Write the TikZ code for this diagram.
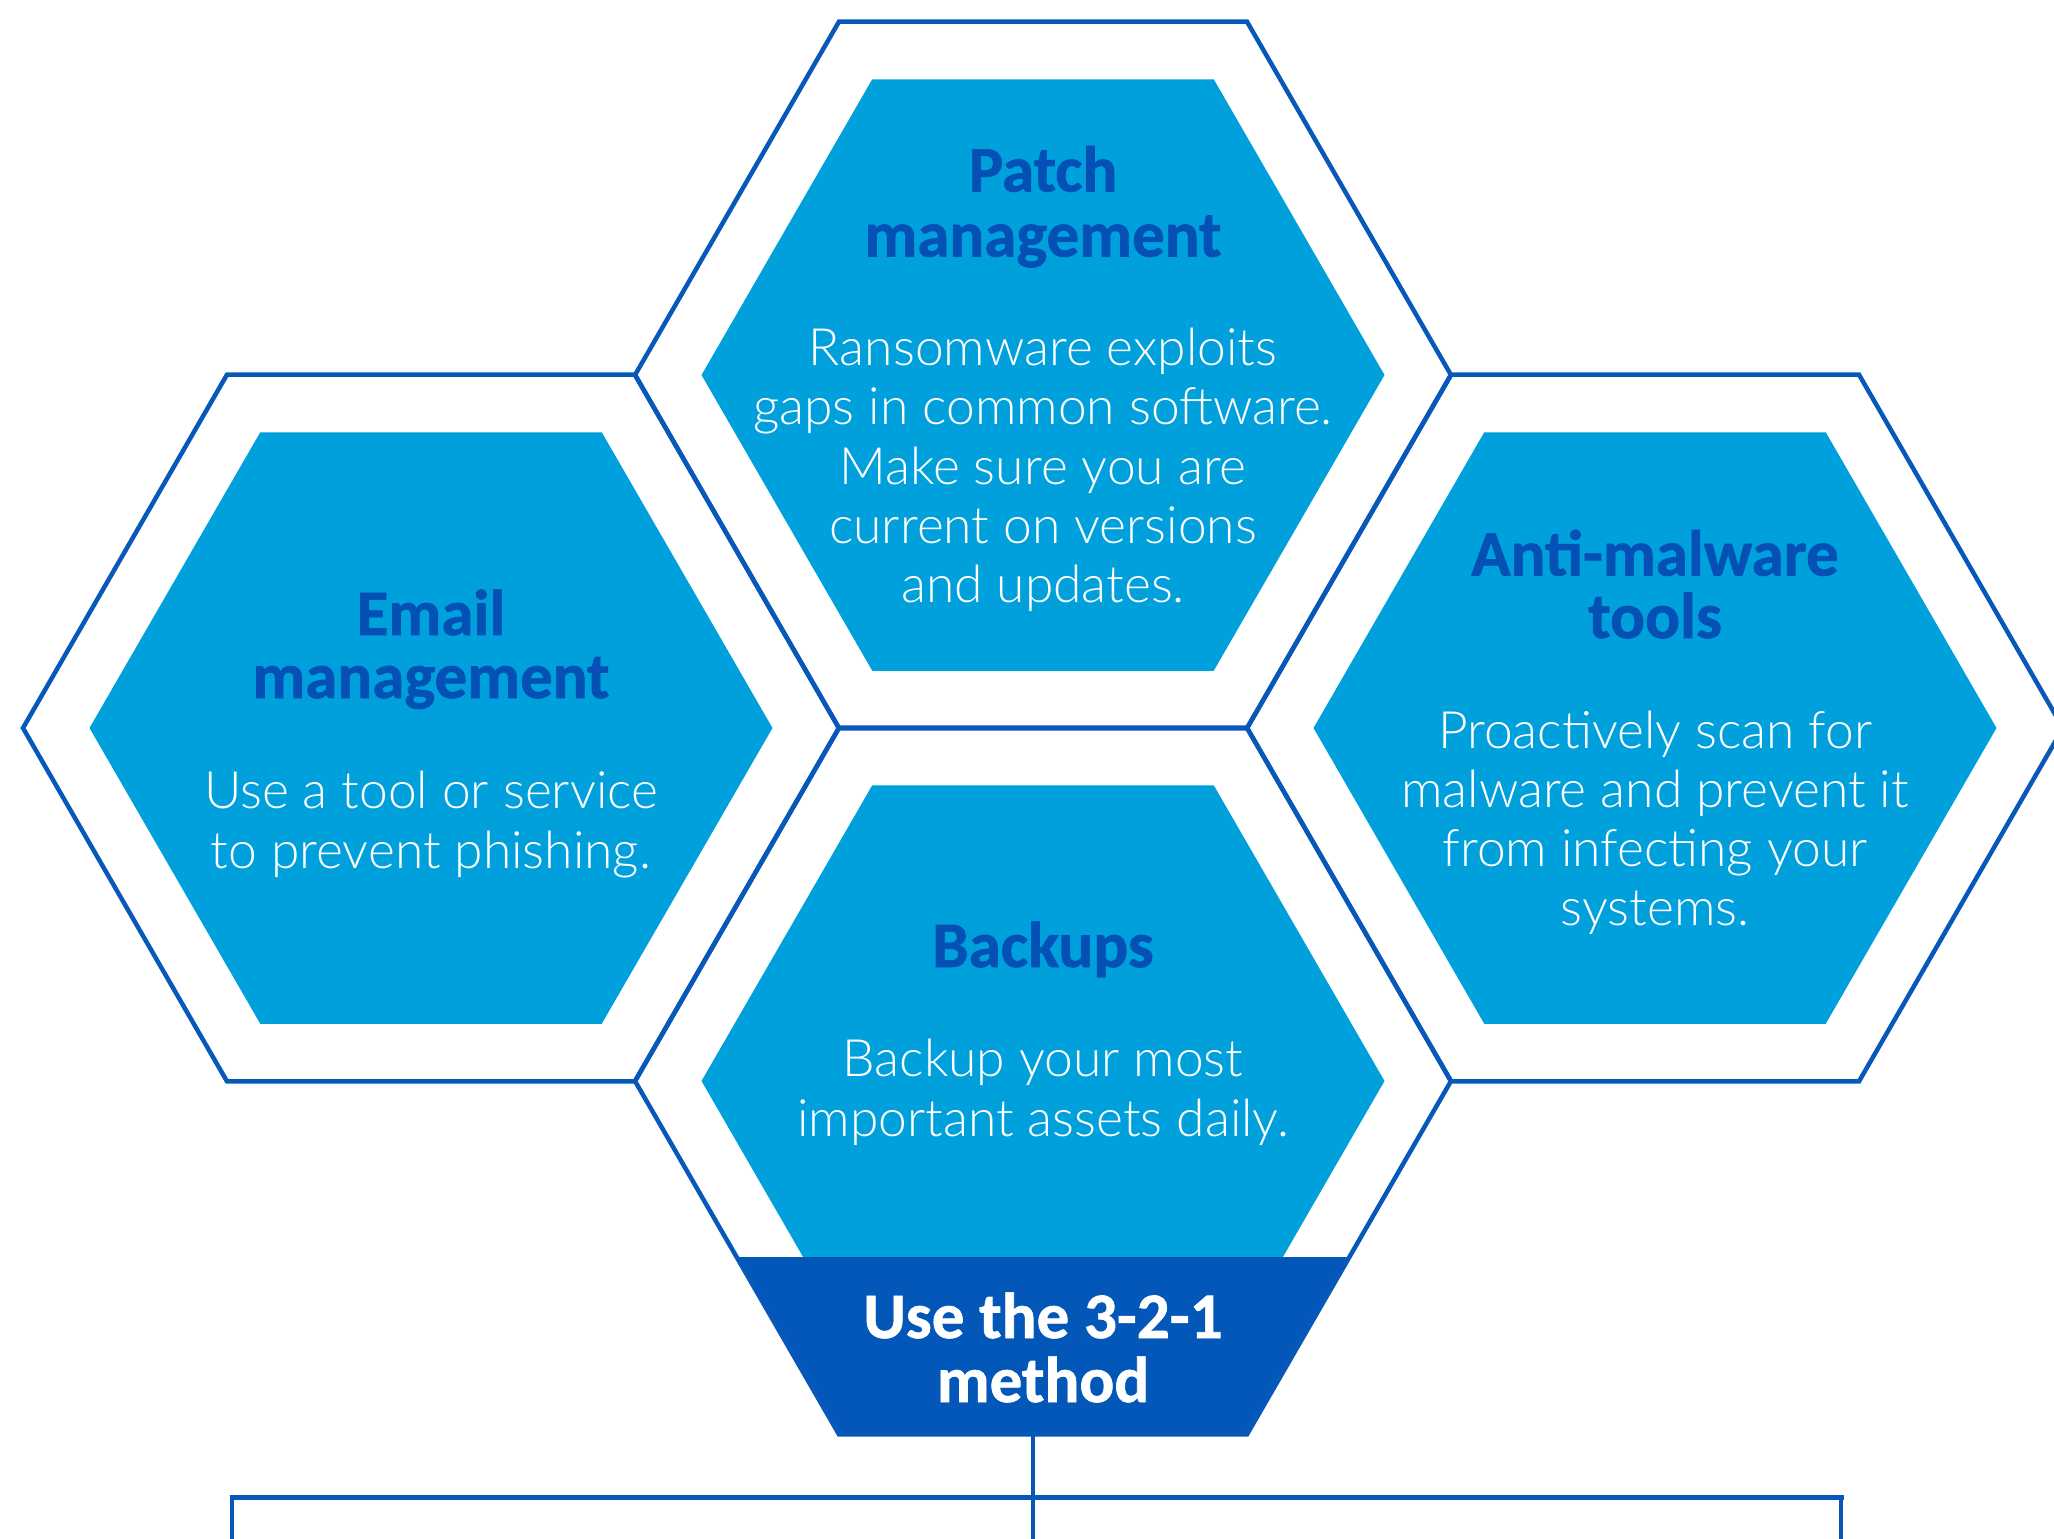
\documentclass[tikz,border=0pt]{standalone}
\usepackage{fontspec}
\setmainfont{Carlito}[BoldFeatures={FakeBold=1}]
\newfontfamily\bodyfam{Lato Light}
\definecolor{lineblue}{RGB}{8,88,185}
\definecolor{fillblue}{RGB}{0,160,220}
\definecolor{titleblue}{RGB}{5,80,180}
\definecolor{darkblue}{RGB}{2,87,184}
\tikzset{
  ttl/.style={font={\fontsize{65}{65}\selectfont\bfseries}, text=titleblue, anchor=base, inner sep=0pt},
  bdy/.style={font={\bodyfam\fontsize{51.5}{60}\selectfont}, text=white, anchor=base, inner sep=0pt},
  trapttl/.style={ttl, text=white},
  hexline/.style={draw=lineblue, line width=4.5pt, line join=miter},
  conn/.style={draw=lineblue, line width=4pt},
}
\begin{document}
\begin{tikzpicture}[x=1pt,y=-1pt]
\useasboundingbox (0,0) rectangle (2054,1539);
\clip (0,0) rectangle (2054,1539);
% hexagon centres
\coordinate (T) at (1043,375);
\coordinate (E) at (431,728);
\coordinate (A) at (1655,728);
\coordinate (B) at (1043,1081);
% inner fills
\foreach \c in {T,E,A}{
  \fill[fillblue] (\c) ++(0:341.5) -- ++(120:341.5) -- ++(180:341.5) -- ++(240:341.5) -- ++(300:341.5) -- ++(0:341.5) -- cycle;
}
\begin{scope}
  \clip (0,0) rectangle (2054,1257);
  \fill[fillblue] (B) ++(0:341.5) -- ++(120:341.5) -- ++(180:341.5) -- ++(240:341.5) -- ++(300:341.5) -- ++(0:341.5) -- cycle;
\end{scope}
% dark band at the bottom of the Backups hexagon
\begin{scope}
  \clip (0,1257) rectangle (2054,1539);
  \fill[darkblue] (B) ++(0:408) -- ++(120:408) -- ++(180:408) -- ++(240:408) -- ++(300:408) -- ++(0:408) -- cycle;
\end{scope}
% outlines
\foreach \c in {T,E,A,B}{
  \path[hexline] (\c) ++(0:408) -- ++(120:408) -- ++(180:408) -- ++(240:408) -- ++(300:408) -- ++(0:408) -- cycle;
}
% texts: Patch management
\node[ttl] (t1) at (1043,191.5) {Patch};
\node[ttl] (t2) at (1043,256.5) {management};
\node[bdy] (tb1) at (1043,365) {Ransomware exploits};
\node[bdy] (tb2) at (1043,424.5) {gaps in common software.};
\node[bdy] (tb3) at (1043,484) {Make sure you are};
\node[bdy] (tb4) at (1043,543) {current on versions};
\node[bdy] (tb5) at (1043,602) {and updates.};
% Email management
\node[ttl] (e1) at (431,635) {Email};
\node[ttl] (e2) at (431,698) {management};
\node[bdy] (eb1) at (431,808) {Use a tool or service};
\node[bdy] (eb2) at (431,868) {to prevent phishing.};
% Anti-malware tools
\node[ttl] (a1) at (1655,575.5) {Anti-malware};
\node[ttl] (a2) at (1655,638) {tools};
\node[bdy] (ab1) at (1655,748) {Proactively scan for};
\node[bdy] (ab2) at (1655,807.5) {malware and prevent it};
\node[bdy] (ab3) at (1655,866.5) {from infecting your};
\node[bdy] (ab4) at (1655,925.5) {systems.};
% Backups
\node[ttl] (b1) at (1043,967) {Backups};
\node[bdy] (bb1) at (1043,1076) {Backup your most};
\node[bdy] (bb2) at (1043,1136) {important assets daily.};
% 3-2-1
\node[trapttl] (m1) at (1043,1338) {Use the 3-2-1};
\node[trapttl] (m2) at (1043,1402) {method};
% connectors
\coordinate (trapbot) at (1033,1436);
\coordinate (jc) at (1033,1497);
\coordinate (jl) at (232,1497);
\coordinate (jr) at (1841,1497);
\coordinate (endc) at (1033,1545);
\coordinate (endl) at (232,1545);
\coordinate (endr) at (1841,1545);
\draw[conn] (trapbot) -- (endc);
\draw[conn, line width=5pt] ([xshift=-2.5pt]jl) -- ([xshift=2.5pt]jr);
\draw[conn] (jl) -- (endl);
\draw[conn] (jr) -- (endr);
\end{tikzpicture}
\end{document}
